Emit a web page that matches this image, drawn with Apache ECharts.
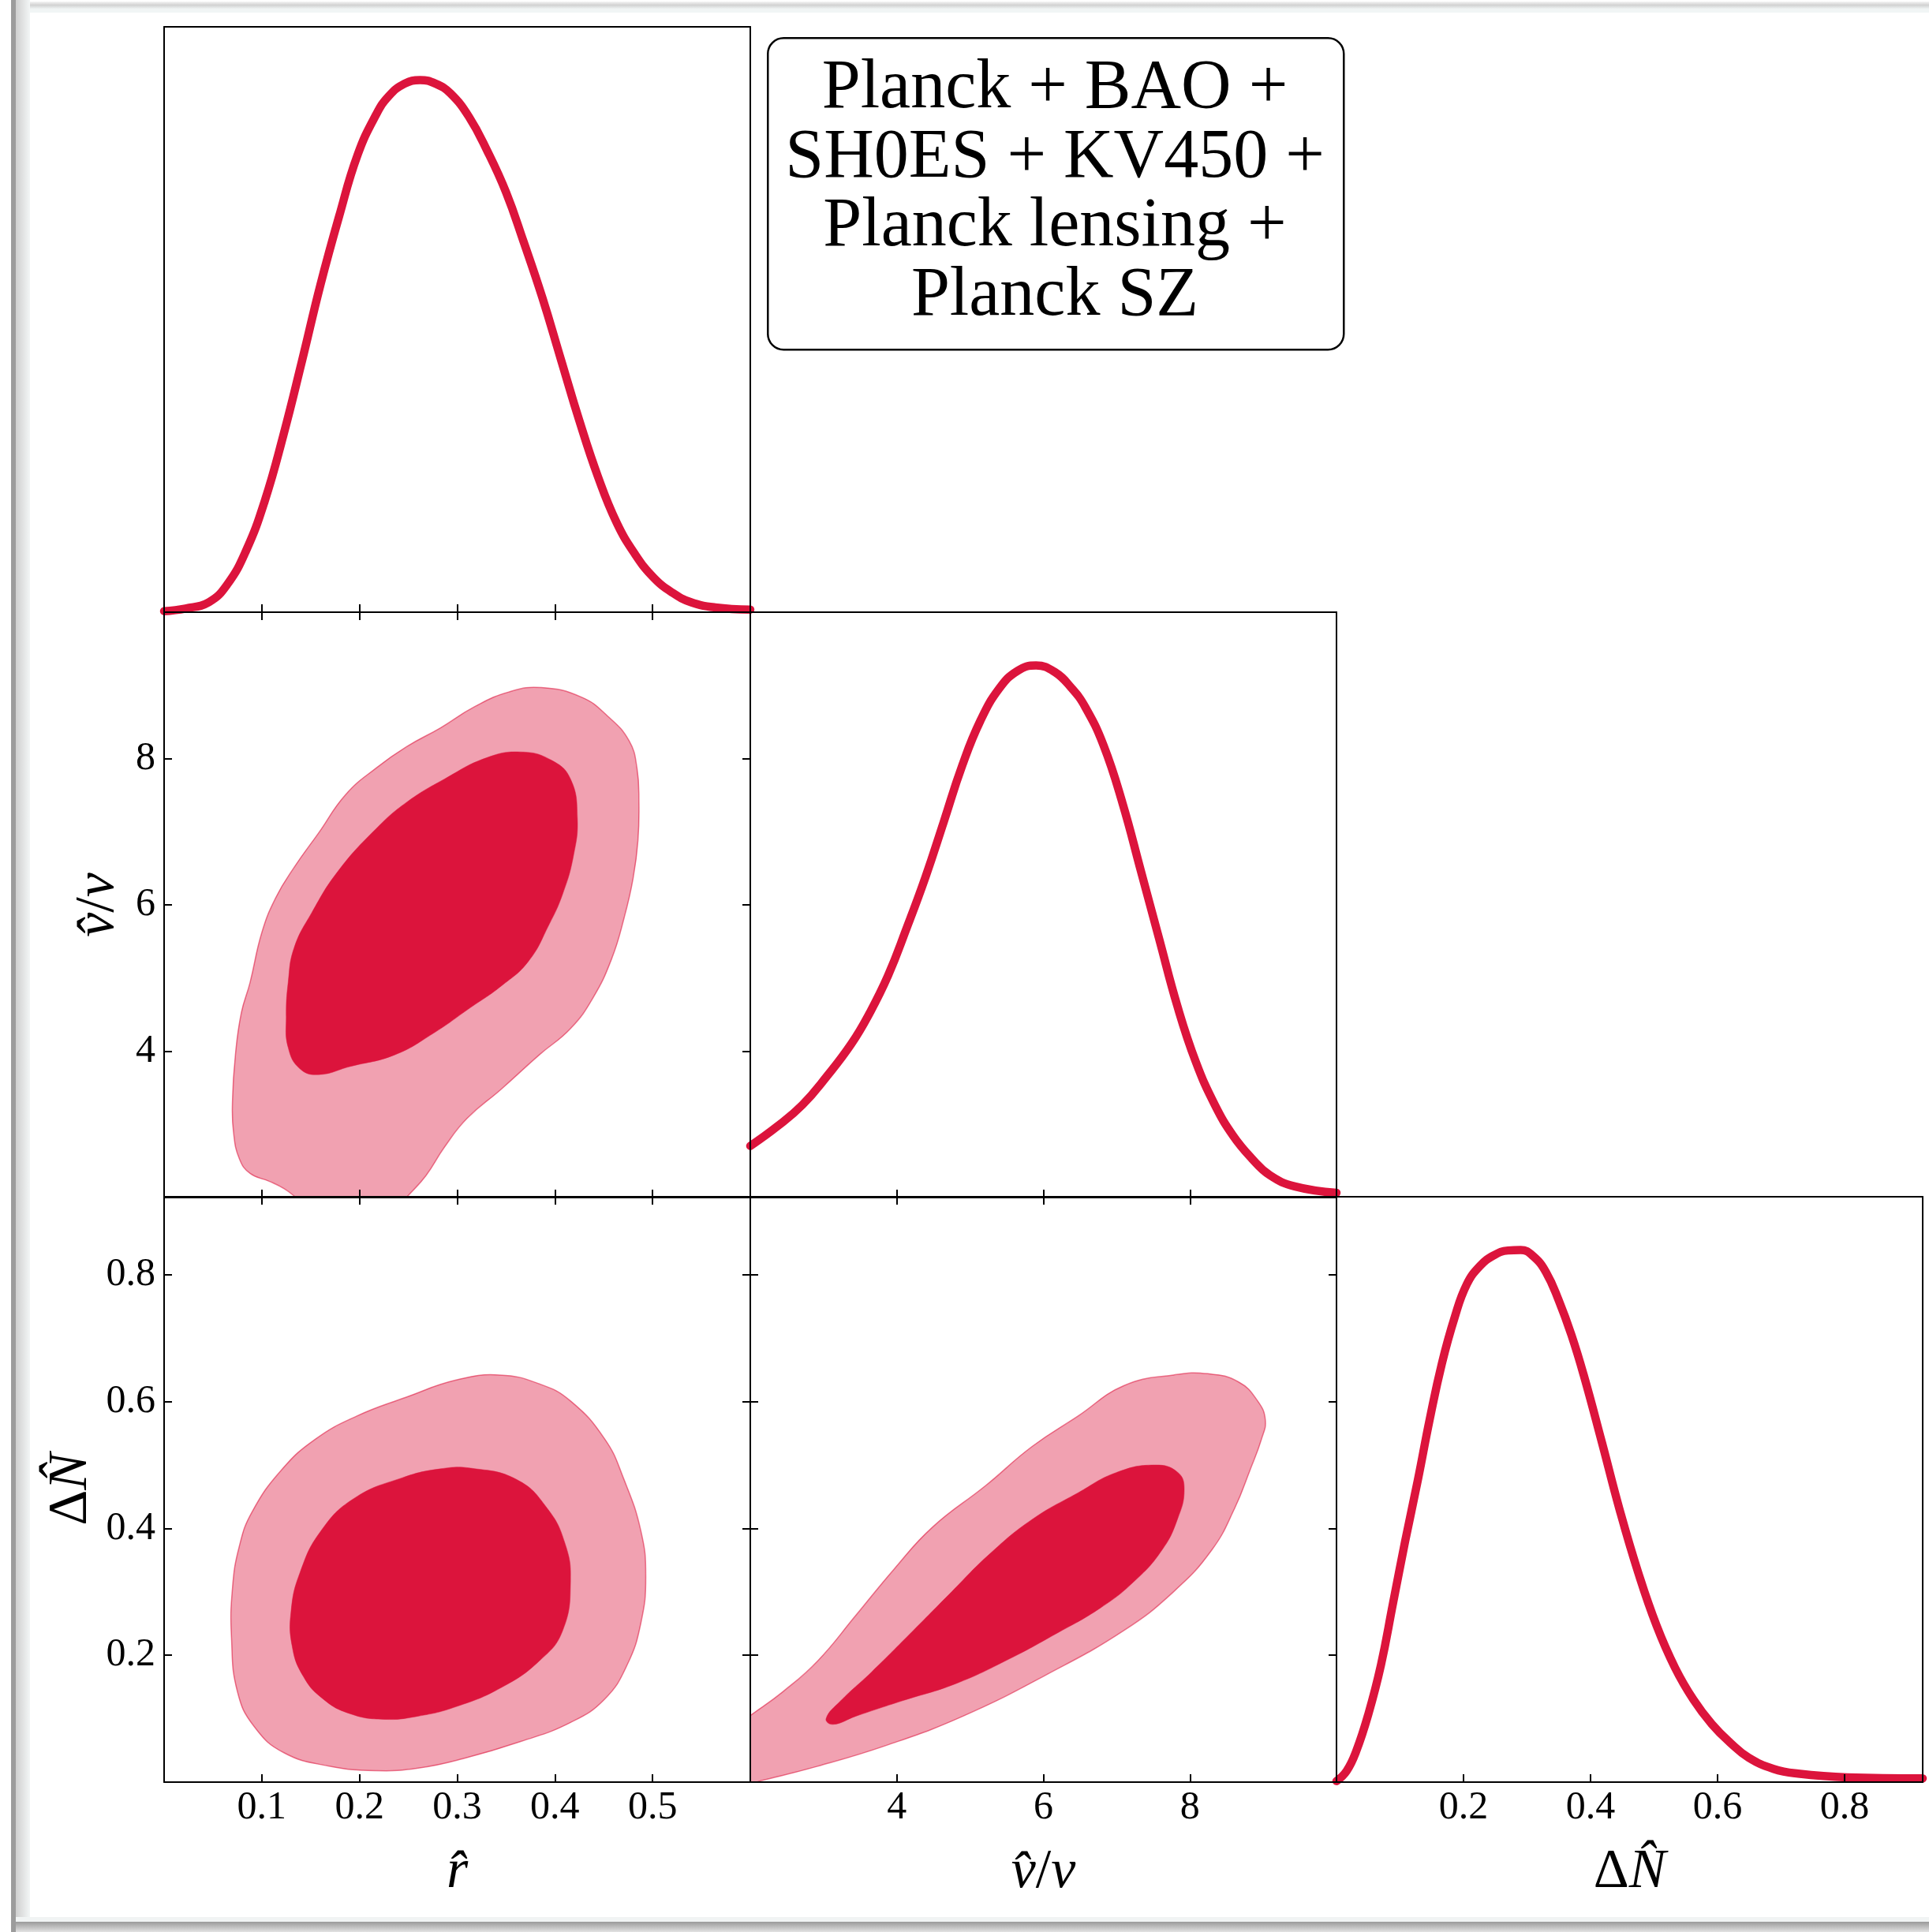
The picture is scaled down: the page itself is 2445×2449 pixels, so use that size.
<!DOCTYPE html>
<html><head><meta charset="utf-8">
<script src="https://cdn.jsdelivr.net/npm/echarts@6/dist/echarts.min.js"></script>
<style>html,body{margin:0;padding:0;background:#fff;}#c{width:2445px;height:2449px;}</style>
</head><body><div id="c"></div>
<script>
// ---------------- data ----------------
const rTickValues = [0.1, 0.2, 0.3, 0.4, 0.5];
const rTickLabels = ['0.1', '0.2', '0.3', '0.4', '0.5'];
const vTickValues = [4, 6, 8];
const vTickLabels = ['4', '6', '8'];
const nTickValues = [0.2, 0.4, 0.6, 0.8];
const nTickLabels = ['0.2', '0.4', '0.6', '0.8'];
const legendLines = ['Planck + BAO +', 'SH0ES + KV450 +', 'Planck lensing +', 'Planck SZ'];

// 1D marginals (normalised to peak 1)
const rDensity = [[0.000,0.002],[0.022,0.007],[0.046,0.019],[0.065,0.053],[0.084,0.116],[0.103,0.209],[0.122,0.332],[0.141,0.471],[0.160,0.615],[0.179,0.743],[0.198,0.859],[0.217,0.935],[0.230,0.970],[0.246,0.993],[0.262,1.0],[0.278,0.993],[0.293,0.975],[0.312,0.931],[0.331,0.866],[0.350,0.789],[0.368,0.696],[0.387,0.592],[0.406,0.476],[0.425,0.360],[0.444,0.255],[0.463,0.169],[0.482,0.109],[0.501,0.065],[0.520,0.037],[0.539,0.019],[0.564,0.009],[0.600,0.005]];
const vDensity = [[2.00,0.097],[2.37,0.134],[2.71,0.174],[3.04,0.227],[3.38,0.289],[3.63,0.347],[3.88,0.417],[4.13,0.505],[4.39,0.602],[4.64,0.706],[4.89,0.811],[5.14,0.896],[5.40,0.957],[5.65,0.990],[5.90,1.0],[6.15,0.988],[6.38,0.958],[6.57,0.922],[6.82,0.850],[7.08,0.741],[7.33,0.614],[7.58,0.486],[7.83,0.359],[8.08,0.255],[8.34,0.174],[8.59,0.116],[8.84,0.074],[9.09,0.042],[9.43,0.021],[10.0,0.009]];
const nDensity = [[0.000,0.002],[0.016,0.021],[0.031,0.058],[0.050,0.127],[0.070,0.220],[0.089,0.336],[0.108,0.452],[0.128,0.567],[0.147,0.683],[0.166,0.787],[0.186,0.873],[0.205,0.935],[0.226,0.970],[0.248,0.990],[0.270,0.999],[0.290,1.0],[0.310,0.988],[0.330,0.958],[0.350,0.905],[0.370,0.840],[0.389,0.766],[0.418,0.638],[0.446,0.511],[0.475,0.394],[0.504,0.294],[0.533,0.215],[0.562,0.155],[0.591,0.109],[0.620,0.074],[0.649,0.046],[0.688,0.025],[0.727,0.016],[0.804,0.009],[0.923,0.007]];

// 2D contours (68% inner, 95% outer)
const rvOuter = [[0.386,8.97],[0.427,8.84],[0.454,8.58],[0.476,8.24],[0.484,7.87],[0.486,7.40],[0.485,6.88],[0.480,6.36],[0.471,5.83],[0.458,5.26],[0.439,4.73],[0.416,4.31],[0.384,3.95],[0.345,3.48],[0.310,3.08],[0.287,2.69],[0.268,2.30],[0.248,2.00],[0.238,1.85],[0.149,1.85],[0.135,2.00],[0.123,2.12],[0.108,2.22],[0.088,2.33],[0.077,2.53],[0.071,2.90],[0.070,3.32],[0.073,3.95],[0.079,4.52],[0.088,4.94],[0.100,5.62],[0.114,6.09],[0.133,6.51],[0.158,6.98],[0.186,7.51],[0.217,7.87],[0.248,8.16],[0.283,8.42],[0.318,8.71],[0.353,8.91]];
const rvInner = [[0.365,8.09],[0.396,7.98],[0.416,7.72],[0.423,7.19],[0.419,6.67],[0.408,6.15],[0.394,5.73],[0.373,5.23],[0.345,4.89],[0.314,4.60],[0.275,4.24],[0.236,3.95],[0.190,3.79],[0.158,3.68],[0.139,3.76],[0.127,4.05],[0.125,4.47],[0.127,4.94],[0.133,5.41],[0.151,5.89],[0.178,6.46],[0.217,7.04],[0.248,7.40],[0.287,7.72],[0.330,8.01]];
const rnOuter = [[0.343,0.642],[0.384,0.628],[0.416,0.601],[0.451,0.541],[0.470,0.480],[0.488,0.396],[0.493,0.324],[0.488,0.251],[0.474,0.185],[0.451,0.131],[0.416,0.094],[0.365,0.064],[0.306,0.037],[0.260,0.022],[0.217,0.018],[0.170,0.025],[0.123,0.046],[0.092,0.088],[0.075,0.143],[0.069,0.227],[0.070,0.306],[0.077,0.372],[0.090,0.426],[0.120,0.492],[0.155,0.541],[0.197,0.577],[0.248,0.607],[0.299,0.634]];
const rnInner = [[0.314,0.495],[0.361,0.477],[0.392,0.432],[0.410,0.378],[0.416,0.318],[0.408,0.239],[0.384,0.191],[0.345,0.149],[0.299,0.119],[0.260,0.104],[0.225,0.099],[0.190,0.108],[0.162,0.132],[0.142,0.168],[0.131,0.215],[0.130,0.270],[0.139,0.330],[0.160,0.395],[0.194,0.447],[0.244,0.480],[0.283,0.494]];
const vnOuter = [[2.136,0.002],[2.919,0.025],[3.859,0.058],[4.903,0.104],[6.052,0.170],[7.097,0.239],[7.775,0.300],[8.298,0.366],[8.611,0.432],[8.820,0.492],[8.977,0.541],[9.029,0.571],[8.924,0.601],[8.663,0.631],[8.245,0.644],[7.775,0.642],[7.097,0.625],[6.470,0.577],[5.843,0.529],[5.217,0.468],[4.486,0.402],[3.963,0.336],[3.441,0.263],[2.919,0.191],[2.449,0.143],[2.000,0.105],[1.850,0.092],[1.850,-0.006]];
const vnInner = [[7.514,0.500],[7.828,0.489],[7.922,0.462],[7.828,0.414],[7.619,0.366],[7.253,0.318],[6.783,0.275],[6.157,0.233],[5.530,0.194],[4.799,0.155],[4.068,0.128],[3.441,0.104],[3.128,0.091],[3.034,0.100],[3.232,0.128],[3.650,0.173],[4.225,0.239],[4.747,0.300],[5.269,0.360],[5.843,0.414],[6.470,0.456],[6.992,0.488]];

// ---------------- layout / style ----------------
const COLS = [208, 951, 1694], ROWS = [34, 776, 1517], W = 743, H = 742;
const FONT = '"Liberation Serif", "DejaVu Serif", serif';
const CRIMSON = '#DC143C';
const LIGHT = 'rgba(220,20,60,0.4)';
const OUTLINE = 'rgba(220,20,60,0.55)';

const axisDefs = {
  r: {min: 0, max: 0.6, interval: 0.1, ticks: rTickValues, labels: rTickLabels},
  v: {min: 2, max: 10, interval: 2, ticks: vTickValues, labels: vTickLabels},
  n: {min: 0, max: 0.923, interval: 0.2, ticks: nTickValues, labels: nTickLabels},
  d: {min: 0, max: 1.1}
};
const NAMES = {
  r: '{i|r\u0302}',
  v: '{i|v\u0302}{u|/}{i|v}',
  n: '{u|\u0394}{i|N\u0302}'
};
const panels = [
  {col: 0, row: 0, x: 'r', y: 'd', twoD: false, xLab: false, yLab: false},
  {col: 0, row: 1, x: 'r', y: 'v', twoD: true, xLab: false, yLab: true, yName: 'v', yGap: 48},
  {col: 1, row: 1, x: 'v', y: 'd', twoD: false, xLab: false, yLab: false},
  {col: 0, row: 2, x: 'r', y: 'n', twoD: true, xLab: true, yLab: true, xName: 'r', yName: 'n', yGap: 82},
  {col: 1, row: 2, x: 'v', y: 'n', twoD: true, xLab: true, yLab: false, xName: 'v'},
  {col: 2, row: 2, x: 'n', y: 'd', twoD: false, xLab: true, yLab: false, xName: 'n'}
];

function fmt(ticks, labels) {
  return function (val) {
    for (let i = 0; i < ticks.length; i++) if (Math.abs(val - ticks[i]) < 1e-6) return labels[i];
    return '';
  };
}
const nameStyle = {
  fontFamily: FONT, fontSize: 70, color: '#000',
  rich: {
    i: {fontFamily: FONT, fontSize: 70, fontStyle: 'italic', color: '#000'},
    u: {fontFamily: FONT, fontSize: 70, color: '#000'}
  }
};
function makeAxis(kind, gridIndex, position, showTicks, showLabels, name, gap) {
  const d = axisDefs[kind];
  const ax = {
    type: 'value', gridIndex: gridIndex, position: position, min: d.min, max: d.max, z: 10,
    axisLine: {show: true, onZero: false, lineStyle: {color: '#000', width: 2}},
    axisTick: {show: showTicks && kind !== 'd', inside: true, length: 10, lineStyle: {color: '#000', width: 2}},
    axisLabel: {show: showLabels && kind !== 'd', margin: (position === 'left' ? 11 : 8),
      fontFamily: FONT, fontSize: 50, color: '#000'},
    splitLine: {show: false}
  };
  if (d.interval) {
    ax.interval = d.interval;
    ax.axisLabel.formatter = fmt(d.ticks, d.labels);
  }
  if (name) {
    ax.name = NAMES[name];
    ax.nameLocation = 'middle';
    ax.nameGap = gap;
    ax.nameRotate = (position === 'left') ? 90 : 0;
    ax.nameTextStyle = nameStyle;
  }
  return ax;
}

const grids = [], xAxes = [], yAxes = [];
panels.forEach(function (p, g) {
  grids.push({left: COLS[p.col], top: ROWS[p.row], width: W, height: H, containLabel: false, show: false});
  xAxes.push(makeAxis(p.x, g, 'bottom', true, p.xLab, p.xName, 80));
  xAxes.push(makeAxis(p.x, g, 'top', p.twoD, false));
  yAxes.push(makeAxis(p.y, g, 'left', p.twoD, p.yLab, p.yName, p.yGap));
  yAxes.push(makeAxis(p.y, g, 'right', p.twoD, false));
});

function lineSeries(g, data) {
  return {type: 'line', xAxisIndex: 2 * g, yAxisIndex: 2 * g, data: data, smooth: 0.45, symbol: 'none',
    clip: true, silent: true, z: 5, lineStyle: {color: CRIMSON, width: 10.5, cap: 'round', join: 'round'}};
}
function contourSeries(g, pts, fill, stroke, lw) {
  return {
    type: 'custom', xAxisIndex: 2 * g, yAxisIndex: 2 * g, clip: true, silent: true, z: 3,
    data: pts,
    renderItem: function (params, api) {
      if (params.dataIndex !== 0) return null;
      const cs = params.coordSys;
      const points = pts.map(function (p) { return api.coord(p); });
      return {
        type: 'polygon',
        shape: {points: points, smooth: 0.45,
          smoothConstraint: [[cs.x - 30, cs.y - 30], [cs.x + cs.width + 30, cs.y + cs.height + 30]]},
        style: {fill: fill, stroke: stroke, lineWidth: lw}
      };
    }
  };
}

const series = [
  lineSeries(0, rDensity),
  contourSeries(1, rvOuter, LIGHT, OUTLINE, 1.5),
  contourSeries(1, rvInner, CRIMSON, CRIMSON, 0.5),
  lineSeries(2, vDensity),
  contourSeries(3, rnOuter, LIGHT, OUTLINE, 1.5),
  contourSeries(3, rnInner, CRIMSON, CRIMSON, 0.5),
  contourSeries(4, vnOuter, LIGHT, OUTLINE, 1.5),
  contourSeries(4, vnInner, CRIMSON, CRIMSON, 0.5),
  lineSeries(5, nDensity)
];

// legend box + page frame decoration
const graphics = [
  {type: 'rect', left: 14, top: 0, shape: {width: 6, height: 2449}, style: {fill: '#9c9c9c'}, z: 1, silent: true},
  {type: 'rect', left: 20, top: 0, shape: {width: 18, height: 2449}, z: 1, silent: true,
    style: {fill: new echarts.graphic.LinearGradient(0, 0, 1, 0, [{offset: 0, color: '#cfcfcf'}, {offset: 1, color: '#f3f6f6'}])}},
  {type: 'rect', left: 38, top: 2, shape: {width: 2407, height: 9}, z: 1, silent: true,
    style: {fill: new echarts.graphic.LinearGradient(0, 0, 0, 1, [{offset: 0, color: '#f4f4f4'}, {offset: 0.5, color: '#d2d2d2'}, {offset: 1, color: '#eef2f2'}])}},
  {type: 'rect', left: 38, top: 11, shape: {width: 2407, height: 5}, style: {fill: '#f1f5f5'}, z: 1, silent: true},
  {type: 'rect', left: 20, top: 2430, shape: {width: 2425, height: 6}, style: {fill: '#f1f4f4'}, z: 1, silent: true},
  {type: 'rect', left: 20, top: 2436, shape: {width: 2425, height: 13}, z: 1, silent: true,
    style: {fill: new echarts.graphic.LinearGradient(0, 0, 0, 1, [{offset: 0, color: '#9a9a9a'}, {offset: 1, color: '#e2e2e2'}])}},
  {type: 'rect', left: 972, top: 47, shape: {width: 730, height: 395, r: 20}, z: 20, silent: true,
    style: {fill: '#fff', stroke: '#000', lineWidth: 2.5}}
];
legendLines.forEach(function (t, i) {
  graphics.push({type: 'text', x: 1337, y: 113 + i * 87.5, z: 21, silent: true,
    style: {text: t, font: '88px ' + FONT, fill: '#000', align: 'center', verticalAlign: 'middle'}});
});

const chart = echarts.init(document.getElementById('c'), null, {renderer: 'canvas', width: 2445, height: 2449});
chart.setOption({
  animation: false,
  backgroundColor: '#fff',
  grid: grids,
  xAxis: xAxes,
  yAxis: yAxes,
  series: series,
  graphic: graphics
});
</script></body></html>
